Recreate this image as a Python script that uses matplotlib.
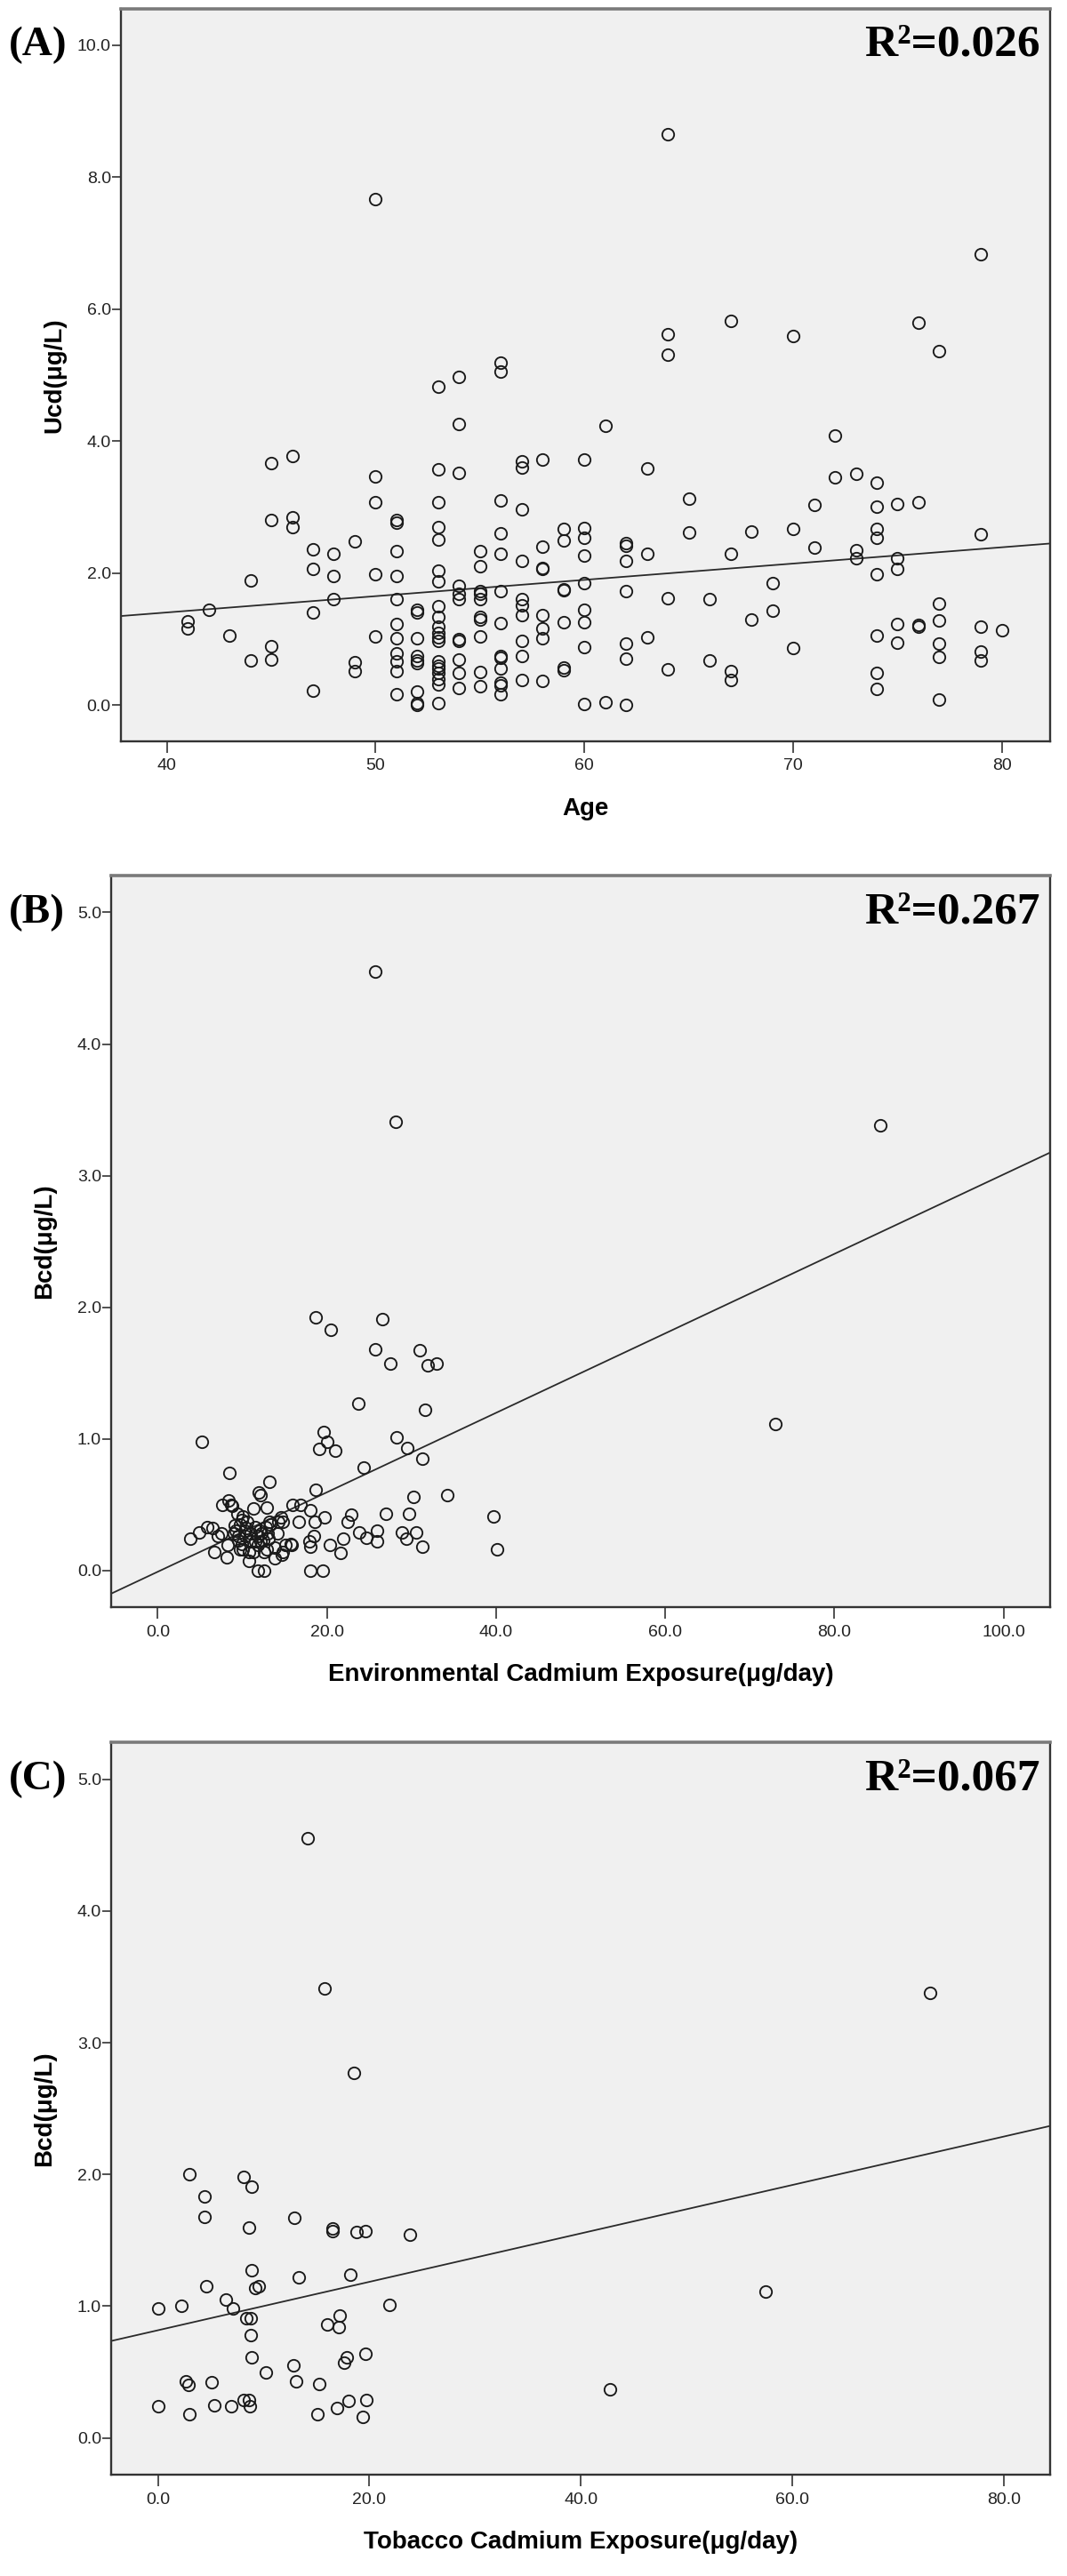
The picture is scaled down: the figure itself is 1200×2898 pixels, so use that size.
import numpy as np
import matplotlib.pyplot as plt
from matplotlib import font_manager

# ---- panel A: age vs urinary cadmium ----
age_A = [41, 42, 43, 44, 45, 46, 47, 48, 49, 50, 51, 52, 53, 54, 55, 56, 57, 58, 59, 60,
         61, 62, 63, 64, 65, 66, 67, 68, 69, 70, 71, 72, 73, 74, 75, 76, 77, 79, 80]
ucd_A = [
    [1.27, 1.16],
    [1.45],
    [1.06],
    [1.89, 0.67],
    [3.67, 2.80, 0.89, 0.69],
    [3.78, 2.84, 2.70],
    [2.36, 2.07, 1.40, 0.22],
    [2.29, 1.96, 1.60],
    [2.48, 0.65, 0.52],
    [7.67, 3.46, 3.08, 1.99, 1.04],
    [2.80, 2.76, 2.33, 1.96, 1.61, 1.23, 1.01, 0.79, 0.66, 0.52, 0.16],
    [1.45, 1.40, 1.01, 0.75, 0.67, 0.63, 0.21, 0.03, 0.00],
    [4.82, 3.57, 3.08, 2.70, 2.51, 2.04, 1.87, 1.50, 1.34, 1.19, 1.10, 1.03, 0.97,
     0.66, 0.60, 0.55, 0.49, 0.40, 0.31, 0.03],
    [4.97, 4.26, 3.52, 1.81, 1.69, 1.60, 1.00, 0.97, 0.69, 0.49, 0.26],
    [2.33, 2.11, 1.73, 1.69, 1.60, 1.34, 1.30, 1.04, 0.50, 0.28],
    [5.19, 5.06, 3.10, 2.60, 2.30, 1.73, 1.24, 0.75, 0.72, 0.55, 0.34, 0.30, 0.16],
    [3.70, 3.60, 2.97, 2.19, 1.60, 1.51, 1.37, 0.97, 0.75, 0.38],
    [3.72, 2.40, 2.08, 2.06, 1.37, 1.16, 1.01, 0.36],
    [2.67, 2.49, 1.76, 1.74, 1.26, 0.57, 0.53],
    [3.72, 2.69, 2.53, 2.26, 1.85, 1.44, 1.26, 0.88, 0.01],
    [4.23, 0.05],
    [2.45, 2.42, 2.19, 1.73, 0.93, 0.70, 0.00],
    [3.58, 2.29, 1.03],
    [8.65, 5.62, 5.31, 1.62, 0.54],
    [3.13, 2.62],
    [1.60, 0.67],
    [5.82, 2.29, 0.52, 0.38],
    [2.63, 1.30],
    [1.85, 1.43],
    [5.59, 2.67, 0.87],
    [3.04, 2.39],
    [4.09, 3.45],
    [3.50, 2.35, 2.23],
    [3.37, 3.01, 2.67, 2.53, 1.99, 1.05, 0.49, 0.25],
    [3.05, 2.23, 2.07, 1.23, 0.94],
    [5.79, 3.08, 1.22, 1.19],
    [5.37, 1.54, 1.28, 0.93, 0.73, 0.08],
    [6.84, 2.59, 1.19, 0.81, 0.68],
    [1.13],
]
fit_A = (0.416, 0.0247)   # intercept, slope
r2_A = "0.026"

# ---- panel B: environmental cadmium exposure vs blood cadmium ----
env_B = [25.7, 28.1, 85.4, 73.0, 18.7, 26.6, 20.5, 25.7, 31.0, 27.5, 31.9, 33.0,
         23.7, 31.6, 19.6, 28.2, 5.2, 20.0, 19.1, 21.0, 29.5, 31.3, 24.4, 8.5,
         13.2, 18.7, 11.9, 12.2, 30.2, 34.2, 39.7, 40.1, 7.6, 8.7, 8.4, 11.3,
         12.9, 15.9, 16.9, 18.0, 27.0, 22.9, 29.7, 19.7, 16.7, 18.6, 22.5, 14.3,
         14.6, 13.3, 3.9, 4.9, 5.9, 6.5, 7.5, 6.7, 8.2, 9.1, 10.0, 9.5,
         10.5, 11.0, 11.5, 12.3, 13.1, 13.8, 13.8, 10.8, 11.8, 12.6, 10.1, 11.3,
         12.6, 14.7, 15.1, 15.8, 14.2, 9.4, 10.1, 18.0, 18.0, 19.5, 18.5, 20.4,
         21.6, 21.9, 23.8, 24.7, 25.9, 25.9, 28.9, 29.4, 30.5, 31.3, 17.9,
         8.8, 7.1, 8.3, 9.7, 10.6, 9.0, 9.5, 10.4, 11.8, 12.5, 9.7, 10.8,
         11.8, 12.9, 13.2, 14.8, 15.7, 14.8, 10.3, 11.5, 12.0, 12.8, 10.0, 11.0,
         12.2, 13.0, 9.2]
bcd_B = [4.55, 3.41, 3.38, 1.11, 1.92, 1.91, 1.83, 1.68, 1.67, 1.57, 1.56, 1.57,
         1.27, 1.22, 1.05, 1.01, 0.98, 0.98, 0.92, 0.91, 0.93, 0.85, 0.78, 0.74,
         0.67, 0.61, 0.59, 0.57, 0.56, 0.57, 0.41, 0.16, 0.50, 0.50, 0.53, 0.47,
         0.48, 0.50, 0.50, 0.46, 0.43, 0.42, 0.43, 0.40, 0.37, 0.37, 0.37, 0.37,
         0.40, 0.35, 0.24, 0.29, 0.33, 0.32, 0.28, 0.14, 0.10, 0.34, 0.38, 0.26,
         0.32, 0.28, 0.22, 0.28, 0.24, 0.17, 0.09, 0.07, 0.00, 0.00, 0.16, 0.14,
         0.14, 0.12, 0.19, 0.19, 0.28, 0.43, 0.41, 0.18, 0.00, 0.00, 0.26, 0.19,
         0.13, 0.24, 0.29, 0.25, 0.30, 0.22, 0.29, 0.24, 0.29, 0.18, 0.22,
         0.49, 0.26, 0.19, 0.35, 0.37, 0.28, 0.23, 0.26, 0.26, 0.23, 0.16, 0.14,
         0.19, 0.16, 0.37, 0.37, 0.20, 0.14, 0.30, 0.33, 0.30, 0.33, 0.20, 0.22,
         0.22, 0.28, 0.30]
fit_B = (-0.011, 0.0302)
r2_B = "0.267"

# ---- panel C: tobacco cadmium exposure vs blood cadmium ----
tob_C = [14.2, 15.8, 73.0, 18.5, 3.0, 8.1, 8.9, 4.4, 4.4, 12.9, 8.6, 16.5,
         16.5, 18.8, 19.6, 23.8, 8.9, 13.3, 18.2, 4.6, 9.2, 9.5, 6.4, 57.5,
         0.0, 2.2, 7.1, 21.9, 8.4, 8.8, 17.2, 16.0, 17.1, 8.8, 8.9, 17.9,
         19.6, 17.6, 12.8, 10.2, 2.6, 2.9, 5.1, 13.1, 15.3, 42.8, 8.1, 8.6,
         18.0, 19.7, 0.0, 5.3, 6.9, 8.7, 16.9, 3.0, 15.1, 19.4]
bcd_C = [4.55, 3.41, 3.38, 2.77, 2.00, 1.98, 1.91, 1.83, 1.68, 1.67, 1.60, 1.59,
         1.57, 1.56, 1.57, 1.54, 1.27, 1.22, 1.24, 1.15, 1.14, 1.15, 1.05, 1.11,
         0.98, 1.00, 0.98, 1.01, 0.91, 0.91, 0.93, 0.86, 0.84, 0.78, 0.61, 0.61,
         0.64, 0.57, 0.55, 0.50, 0.43, 0.40, 0.42, 0.43, 0.41, 0.37, 0.29, 0.29,
         0.28, 0.29, 0.24, 0.25, 0.24, 0.24, 0.23, 0.18, 0.18, 0.16]
fit_C = (0.817, 0.01838)
r2_C = "0.067"

x_A = [a for a, vals in zip(age_A, ucd_A) for _ in vals]
y_A = [v for vals in ucd_A for v in vals]

names = {f.name for f in font_manager.fontManager.ttflist}
sans = "Liberation Sans" if "Liberation Sans" in names else "DejaVu Sans"
serif = "Liberation Serif" if "Liberation Serif" in names else "DejaVu Serif"

fig = plt.figure(figsize=(12, 28.98), dpi=100)

panels = [
    # axes rect, x, y, fit, r2, tag, xlabel, ylabel, xlim, ylim, xticks, yticks, xfmt
    ([0.1133, 0.7122, 0.8708, 0.2843], x_A, y_A, fit_A, r2_A, "(A)", "Age", "Ucd(μg/L)",
     (37.8, 82.3), (-0.55, 10.55), [40, 50, 60, 70, 80], [0, 2, 4, 6, 8, 10], "{:.0f}"),
    ([0.1042, 0.3761, 0.8800, 0.2840], env_B, bcd_B, fit_B, r2_B, "(B)",
     "Environmental Cadmium Exposure(μg/day)", "Bcd(μg/L)",
     (-5.5, 105.5), (-0.28, 5.28), [0, 20, 40, 60, 80, 100], [0, 1, 2, 3, 4, 5], "{:.1f}"),
    ([0.1042, 0.0393, 0.8800, 0.2843], tob_C, bcd_C, fit_C, r2_C, "(C)",
     "Tobacco Cadmium Exposure(μg/day)", "Bcd(μg/L)",
     (-4.42, 84.4), (-0.28, 5.28), [0, 20, 40, 60, 80], [0, 1, 2, 3, 4, 5], "{:.1f}"),
]

for rect, xs, ys, fit, r2, tag, xlab, ylab, xlim, ylim, xt, yt, xfmt in panels:
    ax = fig.add_axes(rect)
    ax.set_facecolor("#f0f0f0")
    ax.set_xlim(*xlim)
    ax.set_ylim(*ylim)

    ax.plot(xs, ys, linestyle="none", marker="o", ms=9.6, mfc="none",
            mec="#1a1a1a", mew=1.35, zorder=3)

    lx = np.array(xlim)
    ax.plot(lx, fit[0] + fit[1] * lx, color="#2a2a2a", lw=1.3, zorder=2)

    ax.set_xticks(xt)
    ax.set_xticklabels([xfmt.format(v) for v in xt])
    ax.set_yticks(yt)
    ax.set_yticklabels(["{:.1f}".format(v) for v in yt])
    ax.tick_params(axis="x", length=9, width=1.2, pad=5, labelsize=14, color="#333333")
    ax.tick_params(axis="y", length=7, width=1.2, pad=1, labelsize=14, color="#333333")
    for lbl in ax.get_xticklabels() + ax.get_yticklabels():
        lbl.set_fontfamily(sans)
        lbl.set_color("#222222")

    for side in ["left", "bottom", "right"]:
        ax.spines[side].set_color("#333333")
        ax.spines[side].set_linewidth(1.7)
    ax.spines["top"].set_color("#7a7a7a")
    ax.spines["top"].set_linewidth(2.6)

    ax.set_xlabel(xlab, fontsize=20, fontweight="bold", family=sans, va="center")
    ax.xaxis.set_label_coords(0.5, -0.092)
    ax.set_ylabel(ylab, fontsize=20, fontweight="bold", family=sans, va="center")
    ax.yaxis.set_label_coords(-75 / (rect[2] * 1200), 0.5)

    ax.text(0.989, yt[-1], "R²=" + r2, transform=ax.get_yaxis_transform(),
            ha="right", va="center", fontsize=37, fontweight="bold", family=serif)
    fig.text(0.008, ax.transData.transform((0, yt[-1]))[1] / fig.bbox.height, tag,
             ha="left", va="center", fontsize=34, fontweight="bold", family=serif)

fig.savefig("out.png", dpi=100, facecolor="white")
